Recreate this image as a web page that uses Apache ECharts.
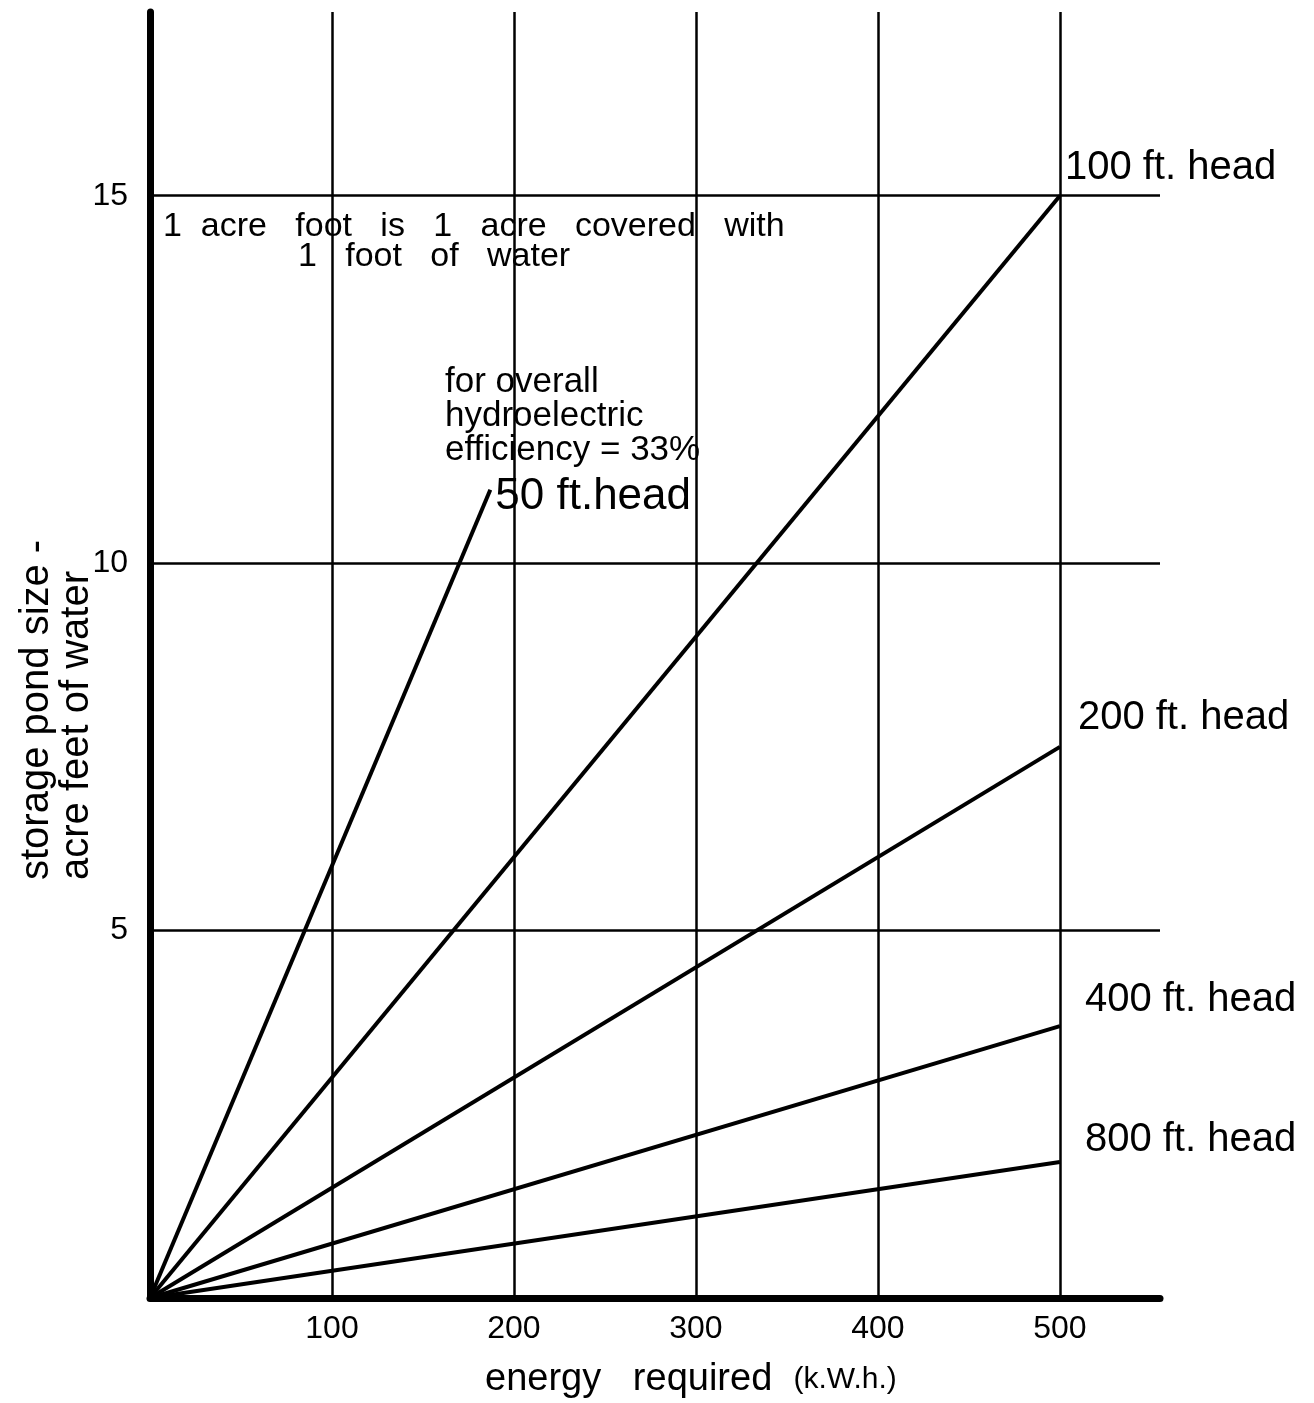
<!DOCTYPE html>
<html><head><meta charset="utf-8">
<script src="https://cdn.jsdelivr.net/npm/echarts@6/dist/echarts.min.js"></script>
<style>html,body{margin:0;padding:0;background:#fff}#c{width:1314px;height:1403px}</style>
</head><body><div id="c"></div>
<script>
// ---- data ----
const headNames = ['50 ft.head', '100 ft. head', '200 ft. head', '400 ft. head', '800 ft. head'];
const energyStart = [0, 0, 0, 0, 0];
const storageStart = [0, 0, 0, 0, 0];
const energyEnd = [187, 500, 500, 500, 500];      // kWh
const storageEnd = [11.0, 15.0, 7.5, 3.7, 1.85];  // acre feet
const xTickLabels = [100, 200, 300, 400, 500];
const yTickLabels = [5, 10, 15];
const xTitle = ['energy', 'required', '(k.W.h.)'];
const yTitle = ['storage pond size -', 'acre feet of water'];
const note1 = ['1  acre   foot   is   1   acre   covered   with', '1   foot   of   water'];
const note2 = ['for overall', 'hydroelectric', 'efficiency = 33%'];

// ---- styles ----
const FONT = '"Liberation Sans", Arial, sans-serif';
const labelStyles = [
  { fontSize: 44, offset: [5, 7] },
  { fontSize: 40, offset: [5, -28] },
  { fontSize: 40, offset: [18, -29] },
  { fontSize: 40, offset: [25, -26] },
  { fontSize: 40, offset: [25, -22] }
];

const series = headNames.map((n, i) => ({
  name: n,
  type: 'line',
  data: [[energyStart[i], storageStart[i]], [energyEnd[i], storageEnd[i]]],
  showSymbol: false,
  symbol: 'none',
  lineStyle: { color: '#000', width: 4 },
  z: 3,
  endLabel: {
    show: true,
    formatter: n,
    distance: 0,
    offset: labelStyles[i].offset,
    color: '#000',
    fontFamily: FONT,
    fontSize: labelStyles[i].fontSize,
    align: 'left',
    verticalAlign: 'middle'
  }
}));

const chart = echarts.init(document.getElementById('c'), null, { renderer: 'canvas' });
chart.setOption({
  animation: false,
  backgroundColor: '#fff',
  grid: { left: 150, right: 154, top: 12, bottom: 105, containLabel: false },
  xAxis: {
    type: 'value', min: 0, max: 555, interval: 100,
    axisLine: { show: true, lineStyle: { color: '#000', width: 7 } },
    axisTick: { show: false },
    splitLine: { show: true, showMinLine: false, showMaxLine: false, lineStyle: { color: '#000', width: 2.5 } },
    axisLabel: {
      color: '#000', fontFamily: FONT, fontSize: 32, margin: 15,
      showMinLabel: false, showMaxLabel: false,
      formatter: v => xTickLabels.includes(v) ? String(v) : ''
    }
  },
  yAxis: {
    type: 'value', min: 0, max: 17.5, interval: 5,
    axisLine: { show: true, lineStyle: { color: '#000', width: 7 } },
    axisTick: { show: false },
    splitLine: { show: true, showMinLine: false, showMaxLine: false, lineStyle: { color: '#000', width: 2.5 } },
    axisLabel: {
      color: '#000', fontFamily: FONT, fontSize: 32, margin: 22,
      showMinLabel: false, showMaxLabel: false,
      formatter: v => yTickLabels.includes(v) ? String(v) : ''
    }
  },
  series: series,
  graphic: [
    {
      type: 'text', x: 485, y: 1380, silent: true,
      style: {
        text: '{a|' + xTitle[0] + '}   {a|' + xTitle[1] + '}  {b|' + xTitle[2] + '}',
        fill: '#000', fontFamily: FONT, fontSize: 38,
        textAlign: 'left', textVerticalAlign: 'middle',
        rich: { a: { fontSize: 38, fontFamily: FONT, fill: '#000' }, b: { fontSize: 30, fontFamily: FONT, fill: '#000' } }
      }
    },
    {
      type: 'text', x: 57, y: 880, rotation: Math.PI / 2, silent: true,
      style: {
        text: yTitle.join('\n'),
        fill: '#000', fontFamily: FONT, fontSize: 40, lineHeight: 40,
        textAlign: 'left', textVerticalAlign: 'middle'
      }
    },
    {
      type: 'text', x: 163, y: 227, silent: true,
      style: { text: note1[0], fill: '#000', fontFamily: FONT, fontSize: 34, textAlign: 'left', textVerticalAlign: 'middle' }
    },
    {
      type: 'text', x: 298, y: 257, silent: true,
      style: { text: note1[1], fill: '#000', fontFamily: FONT, fontSize: 34, textAlign: 'left', textVerticalAlign: 'middle' }
    },
    {
      type: 'text', x: 445, y: 416, silent: true,
      style: { text: note2.join('\n'), fill: '#000', fontFamily: FONT, fontSize: 35, lineHeight: 34, textAlign: 'left', textVerticalAlign: 'middle' }
    }
  ]
});
</script>
</body></html>
